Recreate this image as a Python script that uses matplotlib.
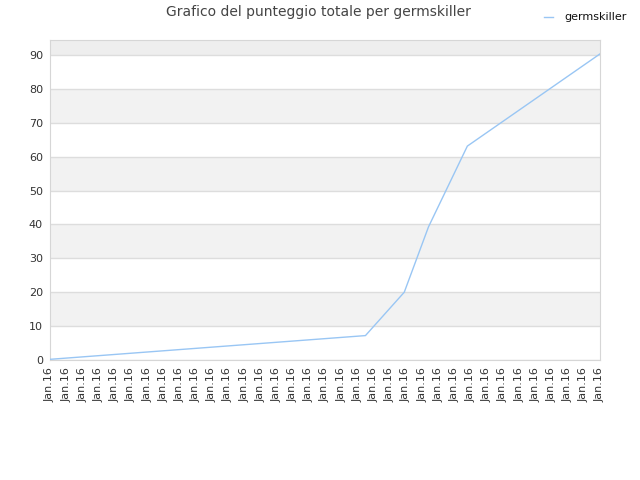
import matplotlib
matplotlib.use('Agg')
import matplotlib.pyplot as plt

# x in tick units (0 = first "Jan.16" label), y = total score
x_vals = [0.0, 19.5, 21.9, 23.4, 25.8, 34.0]
scores = [0.2, 7.2, 20.0, 39.3, 63.1, 90.3]
tick_labels = ['Jan.16'] * 35
y_ticks = [0, 10, 20, 30, 40, 50, 60, 70, 80, 90]

fig = plt.figure(figsize=(6.4, 4.8), dpi=100)
ax = fig.add_axes([50 / 640, 1 - 360 / 480, 550 / 640, 320 / 480])

ymax = 94.4
# alternating bands
for lo in range(10, 90, 20):
    ax.axhspan(lo, lo + 10, color='#f2f2f2', zorder=0, lw=0)
ax.axhspan(90, ymax, color='#eeeeee', zorder=0, lw=0)

ax.plot(x_vals, scores, color='#99c6f4', lw=1, label='germskiller', zorder=3)

ax.set_xlim(0, 34)
ax.set_ylim(0, ymax)
ax.set_yticks(y_ticks)
ax.set_yticklabels([str(v) for v in y_ticks], fontsize=8, color='#333333')
ax.set_xticks(range(len(tick_labels)))
ax.set_xticklabels(tick_labels, rotation=90, fontsize=8, color='#333333')
ax.tick_params(length=0, pad=5)
ax.grid(axis='y', color='#dddddd', lw=1)
ax.set_axisbelow(True)
for s in ax.spines.values():
    s.set_color('#d6d6d6')

fig.text(0.497, 1 - 12 / 480, 'Grafico del punteggio totale per germskiller',
         ha='center', va='center', fontsize=10, color='#444444')
leg = fig.legend(loc='upper right', bbox_to_anchor=(0.995, 0.995), frameon=False,
                 fontsize=8, handlelength=0.8, handletextpad=1.0)
for t in leg.get_texts():
    t.set_color('#111111')

fig.savefig('out.png', dpi=100)
